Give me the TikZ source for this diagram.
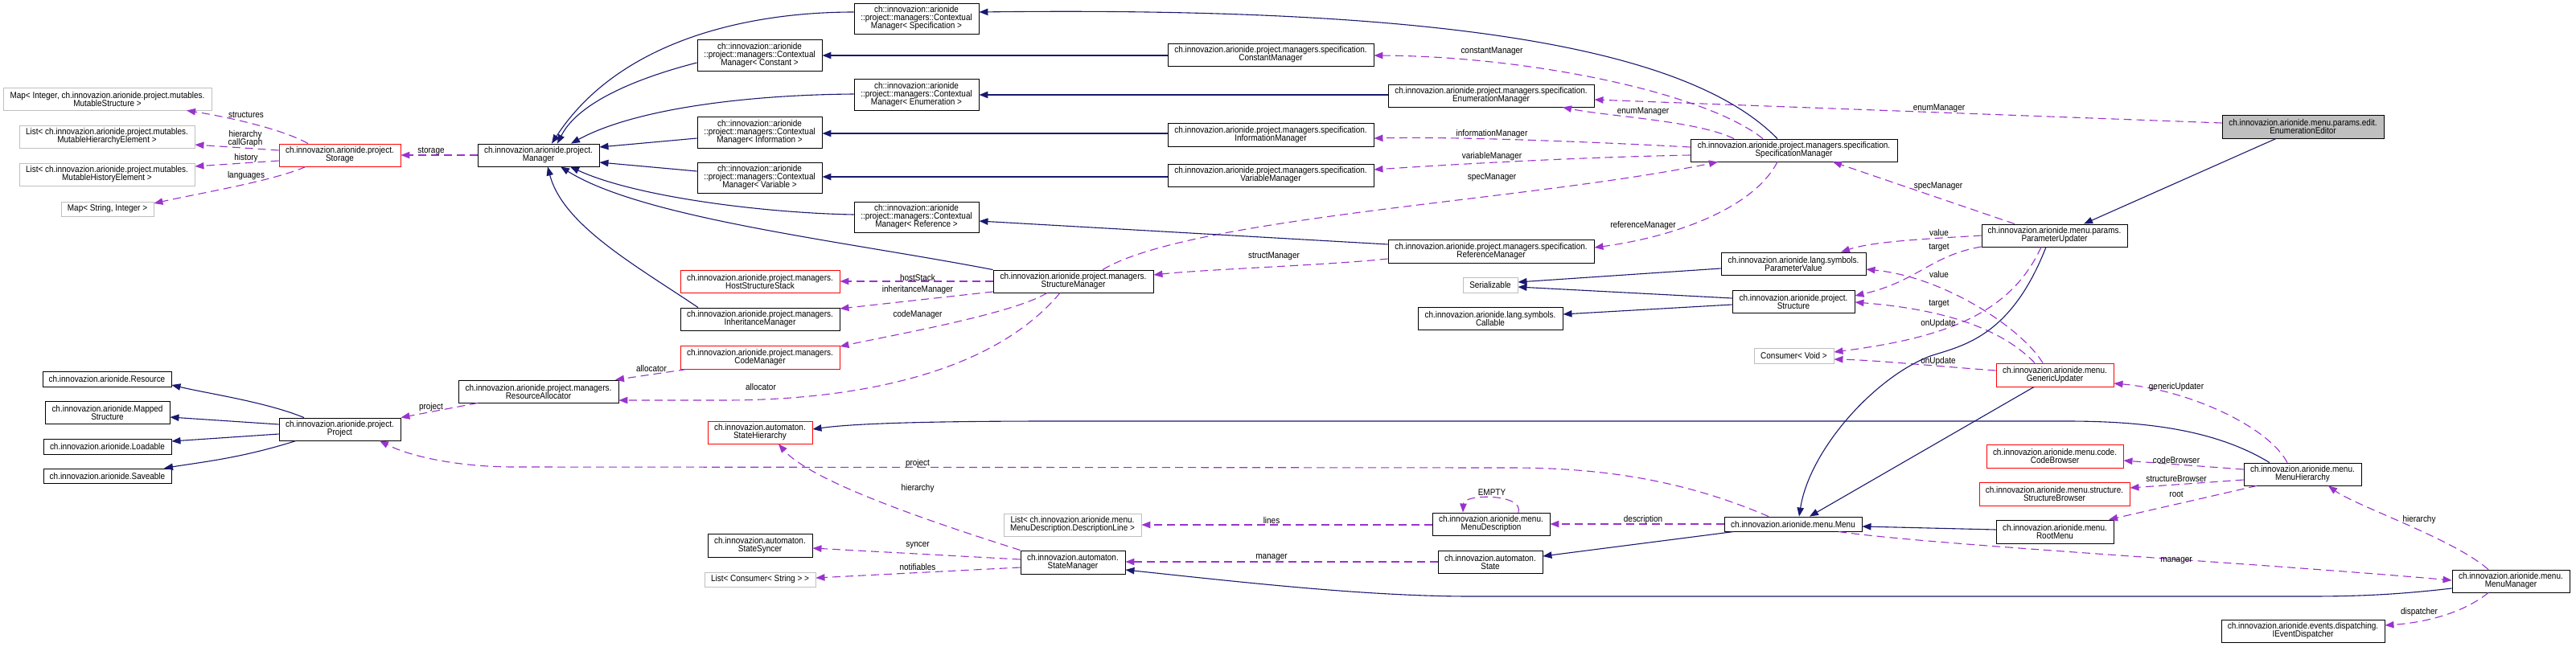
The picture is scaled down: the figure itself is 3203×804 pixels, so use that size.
\documentclass[tikz,border=0pt]{standalone}
\usepackage{fontspec}
\setmainfont{Liberation Sans}[FakeStretch=0.89]
\usetikzlibrary{arrows.meta}
\definecolor{inhc}{HTML}{191970}
\definecolor{usec}{HTML}{9A32CD}
\definecolor{grayb}{HTML}{BFBFBF}
\newcommand\dfont{\fontsize{5.6}{5.0}\selectfont\lineskiplimit=-20pt\lineskip=0pt}
\newcommand\boxnode[6]{\node[#1, minimum width={(#5-#3)*0.5pt}, minimum height={(#6-#4)*0.5pt}] (#2) at ({(#3+#5)/2},{(#4+#6)/2})}
\tikzset{
  box/.style={draw=black, line width=0.45pt, inner sep=0pt, align=center, font=\dfont},
  redbox/.style={box, draw=red},
  graybox/.style={box, draw=grayb},
  curbox/.style={box, fill=grayb},
  inh/.style={draw=inhc, line width=0.55pt, -{Triangle[length=5.5pt,width=4.2pt]}},
  use/.style={draw=usec, line width=0.55pt, dash pattern=on 5pt off 3pt, -{Triangle[length=5.5pt,width=4.2pt]}},
  lbl/.style={font=\dfont, inner sep=0pt, align=center}
}
\begin{document}
\begin{tikzpicture}[x=0.5pt,y=-0.5pt]
\fill[white] (0,0) rectangle (3203,804);
\useasboundingbox (0,0) rectangle (3203,804);
% ---------- nodes ----------
\boxnode{graybox}{mapS}{4}{109}{263}{137} {Map< Integer, ch.innovazion.arionide.project.mutables.\\MutableStructure >};
\boxnode{graybox}{listH}{24}{156}{242}{184} {List< ch.innovazion.arionide.project.mutables.\\MutableHierarchyElement >};
\boxnode{graybox}{listHi}{24}{203}{242}{231} {List< ch.innovazion.arionide.project.mutables.\\MutableHistoryElement >};
\boxnode{graybox}{mapStr}{76}{251}{191}{269} {Map< String, Integer >};
\boxnode{redbox}{storage}{347}{179}{498}{207} {ch.innovazion.arionide.project.\\Storage};
\boxnode{box}{mgr}{594}{179}{745}{207} {ch.innovazion.arionide.project.\\Manager};
\boxnode{box}{cmSpec}{1062}{4}{1217}{42} {ch::innovazion::arionide\\::project::managers::Contextual\\Manager< Specification >};
\boxnode{box}{cmConst}{867}{49}{1022}{88} {ch::innovazion::arionide\\::project::managers::Contextual\\Manager< Constant >};
\boxnode{box}{cmEnum}{1062}{98}{1217}{137} {ch::innovazion::arionide\\::project::managers::Contextual\\Manager< Enumeration >};
\boxnode{box}{cmInfo}{867}{145}{1022}{184} {ch::innovazion::arionide\\::project::managers::Contextual\\Manager< Information >};
\boxnode{box}{cmVar}{867}{202}{1022}{240} {ch::innovazion::arionide\\::project::managers::Contextual\\Manager< Variable >};
\boxnode{box}{cmRef}{1062}{251}{1217}{289} {ch::innovazion::arionide\\::project::managers::Contextual\\Manager< Reference >};
\boxnode{box}{constM}{1452}{54}{1708}{82} {ch.innovazion.arionide.project.managers.specification.\\ConstantManager};
\boxnode{box}{enumM}{1726}{105}{1982}{133} {ch.innovazion.arionide.project.managers.specification.\\EnumerationManager};
\boxnode{box}{infoM}{1452}{153}{1708}{182} {ch.innovazion.arionide.project.managers.specification.\\InformationManager};
\boxnode{box}{varM}{1452}{204}{1708}{232} {ch.innovazion.arionide.project.managers.specification.\\VariableManager};
\boxnode{box}{specM}{2102}{173}{2359}{201} {ch.innovazion.arionide.project.managers.specification.\\SpecificationManager};
\boxnode{box}{refM}{1726}{298}{1982}{327} {ch.innovazion.arionide.project.managers.specification.\\ReferenceManager};
\boxnode{curbox}{editor}{2763}{143}{2964}{172} {ch.innovazion.arionide.menu.params.edit.\\EnumerationEditor};
\boxnode{box}{pu}{2464}{279}{2645}{307} {ch.innovazion.arionide.menu.params.\\ParameterUpdater};
\boxnode{box}{pv}{2140}{314}{2320}{342} {ch.innovazion.arionide.lang.symbols.\\ParameterValue};
\boxnode{graybox}{ser}{1819}{345}{1887}{364} {Serializable};
\boxnode{box}{struc}{2154}{361}{2306}{389} {ch.innovazion.arionide.project.\\Structure};
\boxnode{box}{call}{1763}{382}{1943}{410} {ch.innovazion.arionide.lang.symbols.\\Callable};
\boxnode{graybox}{cv}{2181}{433}{2280}{452} {Consumer< Void >};
\boxnode{redbox}{gu}{2482}{452}{2628}{481} {ch.innovazion.arionide.menu.\\GenericUpdater};
\boxnode{redbox}{hss}{846}{336}{1044}{364} {ch.innovazion.arionide.project.managers.\\HostStructureStack};
\boxnode{box}{im}{846}{383}{1044}{411} {ch.innovazion.arionide.project.managers.\\InheritanceManager};
\boxnode{redbox}{codeM}{846}{430}{1044}{459} {ch.innovazion.arionide.project.managers.\\CodeManager};
\boxnode{box}{sm}{1235}{336}{1434}{364} {ch.innovazion.arionide.project.managers.\\StructureManager};
\boxnode{box}{ra}{570}{473}{769}{501} {ch.innovazion.arionide.project.managers.\\ResourceAllocator};
\boxnode{box}{proj}{347}{520}{498}{548} {ch.innovazion.arionide.project.\\Project};
\boxnode{box}{res}{53}{462}{213}{481} {ch.innovazion.arionide.Resource};
\boxnode{box}{mapped}{56}{499}{211}{527} {ch.innovazion.arionide.Mapped\\Structure};
\boxnode{box}{load}{54}{546}{213}{565} {ch.innovazion.arionide.Loadable};
\boxnode{box}{save}{54}{583}{213}{601} {ch.innovazion.arionide.Saveable};
\boxnode{redbox}{sh}{880}{524}{1010}{552} {ch.innovazion.automaton.\\StateHierarchy};
\boxnode{graybox}{ldl}{1248}{639}{1419}{667} {List< ch.innovazion.arionide.menu.\\MenuDescription.DescriptionLine >};
\boxnode{box}{ssync}{880}{664}{1010}{693} {ch.innovazion.automaton.\\StateSyncer};
\boxnode{graybox}{lcs}{876}{712}{1014}{730} {List< Consumer< String > >};
\boxnode{box}{stm}{1269}{685}{1399}{714} {ch.innovazion.automaton.\\StateManager};
\boxnode{box}{md}{1781}{638}{1927}{666} {ch.innovazion.arionide.menu.\\MenuDescription};
\boxnode{box}{state}{1788}{685}{1918}{713} {ch.innovazion.automaton.\\State};
\boxnode{box}{menu}{2144}{643}{2315}{661} {ch.innovazion.arionide.menu.Menu};
\boxnode{redbox}{cb}{2470}{553}{2640}{582} {ch.innovazion.arionide.menu.code.\\CodeBrowser};
\boxnode{redbox}{sb}{2461}{600}{2648}{629} {ch.innovazion.arionide.menu.structure.\\StructureBrowser};
\boxnode{box}{rm}{2482}{647}{2628}{676} {ch.innovazion.arionide.menu.\\RootMenu};
\boxnode{box}{mh}{2790}{576}{2936}{604} {ch.innovazion.arionide.menu.\\MenuHierarchy};
\boxnode{box}{mm}{3049}{709}{3195}{737} {ch.innovazion.arionide.menu.\\MenuManager};
\boxnode{box}{ied}{2762}{771}{2965}{799} {ch.innovazion.arionide.events.dispatching.\\IEventDispatcher};
% ---------- usage edges ----------
\draw[use] (storage.north -| 383,0) .. controls (350,160) and (280,145) .. (mapS.south -| 232,0);
\draw[use] (storage.west |- 0,187) -- (listH.east |- 0,180);
\draw[use] (storage.west |- 0,200) -- (listHi.east |- 0,207);
\draw[use] (storage.south -| 380,0) .. controls (340,225) and (250,240) .. (mapStr.east |- 0,253);
\draw[use] (mgr.west) -- (storage.east);
\draw[use] (specM.north -| 2192,0) .. controls (2120,115) and (1900,70) .. (constM.east |- 0,69);
\draw[use] (specM.north -| 2156,0) .. controls (2110,150) and (2000,145) .. (enumM.south -| 1943,0);
\draw[use] (specM.west |- 0,183) .. controls (1950,175) and (1800,170) .. (infoM.east |- 0,172);
\draw[use] (specM.west |- 0,193) .. controls (1950,196) and (1800,205) .. (varM.east |- 0,211);
\draw[use] (sm.north -| 1371,0) .. controls (1480,270) and (1900,250) .. (specM.south -| 2136,0);
\draw[use] (specM.south -| 2210,0) .. controls (2180,260) and (2080,295) .. (refM.east |- 0,308);
\draw[use] (refM.west |- 0,322) .. controls (1650,330) and (1500,335) .. (sm.east |- 0,342);
\draw[use] (editor.west |- 0,153) -- (enumM.east |- 0,124);
\draw[use] (pu.north -| 2505,0) -- (specM.south -| 2279,0);
\draw[use] (pu.west |- 0,293) .. controls (2400,297) and (2330,300) .. (pv.north -| 2289,0);
\draw[use] (pu.west |- 0,307) .. controls (2400,318) and (2385,350) .. (struc.east |- 0,368);
\draw[use] (gu.north -| 2540,0) .. controls (2515,410) and (2420,345) .. (pv.east |- 0,335);
\draw[use] (gu.north -| 2530,0) .. controls (2490,410) and (2420,385) .. (struc.east |- 0,376);
\draw[use] (pu.south -| 2538,0) .. controls (2500,390) and (2420,420) .. (cv.east |- 0,438);
\draw[use] (gu.west |- 0,461) .. controls (2400,455) and (2330,448) .. (cv.east |- 0,447);
\draw[use] (mh.north -| 2844,0) .. controls (2820,530) and (2720,485) .. (gu.east |- 0,477);
\draw[use] (sm.west |- 0,350) -- (hss.east |- 0,350);
\draw[use] (sm.west |- 0,363) -- (im.east |- 0,384);
\draw[use] (sm.south -| 1302,0) .. controls (1260,390) and (1120,415) .. (codeM.east |- 0,431);
\draw[use] (sm.south -| 1318,0) .. controls (1230,470) and (1050,498) .. (900,498) -- (ra.east |- 0,498);
\draw[use] (codeM.south -| 854,0) -- (ra.north -| 765,0);
\draw[use] (ra.south -| 594,0) -- (proj.north east);
\draw[use] (menu.north -| 2199,0) .. controls (2100,600) and (2000,582) .. (1880,582) -- (640,581) .. controls (570,581) and (510,568) .. (proj.south -| 472,0);
\draw[use] (stm.north west) .. controls (1160,650) and (1010,600) .. (sh.south -| 968,0);
\draw[use] (stm.west |- 0,696) -- (ssync.east |- 0,682);
\draw[use] (stm.west |- 0,706) -- (lcs.east |- 0,719);
\draw[use] (md.west |- 0,653) -- (ldl.east |- 0,653);
\draw[use] (state.west |- 0,699) -- (stm.east |- 0,699);
\draw[use] (md.north -| 1888,0) .. controls (1895,614) and (1820,614) .. (md.north -| 1819,0);
\draw[use] (menu.west |- 0,652) -- (md.east |- 0,652);
\draw[use] (menu.south -| 2286,0) .. controls (2400,678) and (2800,700) .. (mm.west |- 0,722);
\draw[use] (mh.west |- 0,584) -- (cb.east |- 0,573);
\draw[use] (mh.west |- 0,597) -- (sb.east |- 0,607);
\draw[use] (mh.south -| 2806,0) -- (rm.north -| 2622,0);
\draw[use] (mm.north -| 3094,0) .. controls (3050,670) and (2930,630) .. (mh.south -| 2895,0);
\draw[use] (mm.south -| 3094,0) .. controls (3060,765) and (3010,775) .. (ied.east |- 0,778);
% ---------- inheritance edges ----------
\draw[inh] (cmSpec.west |- 0,15) .. controls (930,15) and (770,50) .. (mgr.north -| 686,0);
\draw[inh] (cmConst.west |- 0,78) .. controls (800,95) and (720,125) .. (mgr.north -| 693,0);
\draw[inh] (cmEnum.west |- 0,117) .. controls (930,118) and (790,135) .. (mgr.north -| 710,0);
\draw[inh] (cmInfo.west |- 0,172) -- (mgr.east |- 0,183);
\draw[inh] (cmVar.west |- 0,213) -- (mgr.east |- 0,202);
\draw[inh] (cmRef.west |- 0,267) .. controls (950,265) and (790,245) .. (mgr.south -| 709,0);
\draw[inh] (sm.north west) .. controls (1050,300) and (800,272) .. (mgr.south -| 697,0);
\draw[inh] (im.north -| 868,0) .. controls (790,330) and (700,280) .. (mgr.south -| 681,0);
\draw[inh] (specM.north -| 2210,0) .. controls (2100,60) and (1800,8) .. (cmSpec.east |- 0,15);
\draw[inh] (constM.west |- 0,69) -- (cmConst.east |- 0,69);
\draw[inh] (enumM.west |- 0,118) -- (cmEnum.east |- 0,118);
\draw[inh] (infoM.west |- 0,166) -- (cmInfo.east |- 0,166);
\draw[inh] (varM.west |- 0,220) -- (cmVar.east |- 0,220);
\draw[inh] (refM.west |- 0,304) -- (cmRef.east |- 0,275);
\draw[inh] (pv.west |- 0,334) -- (ser.east |- 0,351);
\draw[inh] (struc.west |- 0,371) -- (ser.east |- 0,357);
\draw[inh] (struc.west |- 0,379) -- (call.east |- 0,391);
\draw[inh] (editor.south -| 2830,0) -- (pu.north -| 2591,0);
\draw[inh] (pu.south -| 2544,0) .. controls (2500,420) and (2440,430) .. (2400,443) .. controls (2330,470) and (2250,560) .. (menu.north -| 2237,0);
\draw[inh] (gu.south -| 2529,0) -- (menu.north -| 2250,0);
\draw[inh] (rm.west |- 0,659) -- (menu.east |- 0,655);
\draw[inh] (menu.south -| 2156,0) -- (state.east |- 0,692);
\draw[inh] (mh.north -| 2822,0) .. controls (2760,538) and (2680,524) .. (2570,524) -- (1310,524) .. controls (1150,524) and (1060,527) .. (sh.east |- 0,534);
\draw[inh] (mm.west |- 0,732) .. controls (2980,740) and (2930,742) .. (2870,742) -- (1830,742) .. controls (1700,742) and (1550,725) .. (stm.east |- 0,709);
\draw[inh] (proj.north -| 378,0) .. controls (330,500) and (260,490) .. (res.east |- 0,479);
\draw[inh] (proj.west |- 0,528) -- (mapped.east |- 0,519);
\draw[inh] (proj.west |- 0,540) -- (load.east |- 0,549);
\draw[inh] (proj.south -| 368,0) .. controls (300,570) and (250,575) .. (save.north -| 204,0);
% ---------- labels ----------
\node[lbl] (lStructures) at (306,143) {structures};
\node[lbl] (lHier) at (305,173) {hierarchy\\callGraph};
\node[lbl] (lHistory) at (306,197) {history};
\node[lbl] (lLang) at (306,219) {languages};
\node[lbl] (lStorage) at (536,188) {storage};
\node[lbl] (lConstM) at (1855,64) {constantManager};
\node[lbl] (lEnumA) at (2043,139) {enumManager};
\node[lbl] (lInfoM) at (1855,167) {informationManager};
\node[lbl] (lVarM) at (1855,195) {variableManager};
\node[lbl] (lSpecA) at (1855,221) {specManager};
\node[lbl] (lEnumB) at (2411,135) {enumManager};
\node[lbl] (lSpecB) at (2410,232) {specManager};
\node[lbl] (lRefM) at (2043,281) {referenceManager};
\node[lbl] (lStructM) at (1584,319) {structManager};
\node[lbl] (lValueA) at (2411,289) {value};
\node[lbl] (lTargetA) at (2411,308) {target};
\node[lbl] (lValueB) at (2411,341) {value};
\node[lbl] (lTargetB) at (2411,378) {target};
\node[lbl] (lOnUpdA) at (2410,403) {onUpdate};
\node[lbl] (lOnUpdB) at (2410,450) {onUpdate};
\node[lbl] (lGenU) at (2706,482) {genericUpdater};
\node[lbl] (lHost) at (1141,345) {hostStack};
\node[lbl] (lInhM) at (1141,361) {inheritanceManager};
\node[lbl] (lCodeM) at (1141,392) {codeManager};
\node[lbl] (lAllocA) at (810,458) {allocator};
\node[lbl] (lAllocB) at (946,481) {allocator};
\node[lbl] (lProjA) at (536,507) {project};
\node[lbl] (lProjB) at (1141,577) {project};
\node[lbl] (lHierA) at (1141,608) {hierarchy};
\node[lbl] (lLines) at (1581,647) {lines};
\node[lbl] (lSyncer) at (1141,679) {syncer};
\node[lbl] (lNotif) at (1141,705) {notifiables};
\node[lbl] (lManA) at (1581,694) {manager};
\node[lbl] (lEmpty) at (1855,613) {EMPTY};
\node[lbl] (lDesc) at (2043,647) {description};
\node[lbl] (lCodeB) at (2706,572) {codeBrowser};
\node[lbl] (lStructB) at (2706,596) {structureBrowser};
\node[lbl] (lRoot) at (2706,615) {root};
\node[lbl] (lHierB) at (3008,647) {hierarchy};
\node[lbl] (lManB) at (2706,698) {manager};
\node[lbl] (lDisp) at (3008,762) {dispatcher};
\end{tikzpicture}
\end{document}
